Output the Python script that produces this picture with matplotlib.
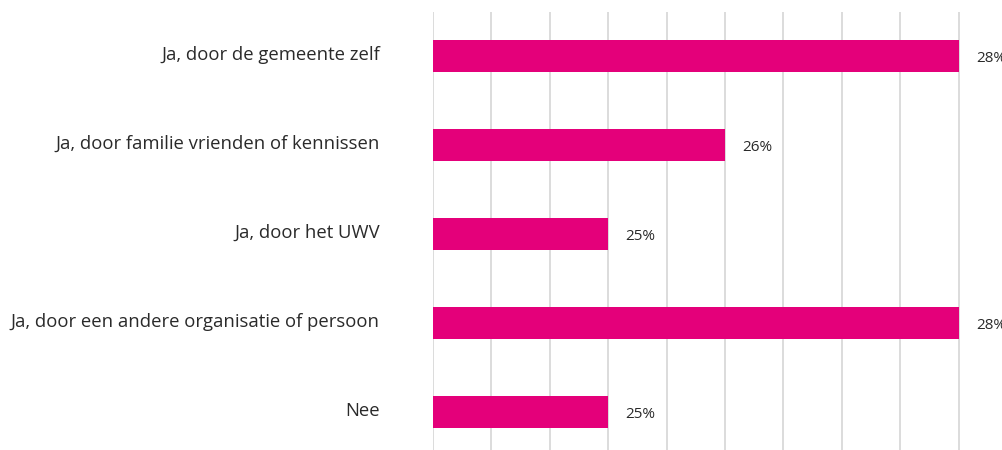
import matplotlib
matplotlib.use("Agg")
import matplotlib.pyplot as plt
import matplotlib.transforms as mtransforms
from matplotlib.ticker import MultipleLocator

categories = [
    "Ja, door de gemeente zelf",
    "Ja, door familie vrienden of kennissen",
    "Ja, door het UWV",
    "Ja, door een andere organisatie of persoon",
    "Nee",
]
values = [28, 26, 25, 28, 25]

BAR_COLOR = "#e4007a"
GRID_COLOR = "#d9d9d9"
TEXT_COLOR = "#2a2a2a"

plt.rcParams["font.family"] = ["Open Sans", "DejaVu Sans"]

fig = plt.figure(figsize=(10.03, 4.5), dpi=100)
# axes run off the right and bottom edge of the canvas
ax = fig.add_axes([432.7 / 1003, -6.5 / 450, 660 / 1003, 445 / 450])

y = list(range(len(categories)))
ax.barh(y, values, height=0.36, color=BAR_COLOR, zorder=3)

for yi, v in zip(y, values):
    ax.annotate(f"{v}%", xy=(v, yi), xytext=(12.5, -1.5), textcoords="offset points",
                ha="left", va="center", fontsize=11, color=TEXT_COLOR,
                annotation_clip=False)

ax.set_xlim(23.5, 23.5 + 660 / 116.9)
ax.set_ylim(len(categories) - 0.5, -0.5)
ax.xaxis.set_major_locator(MultipleLocator(0.5))
ax.grid(axis="x", color=GRID_COLOR, linewidth=1.3, zorder=0)
ax.set_axisbelow(True)

ax.set_yticks(y)
ax.set_yticklabels(categories, fontsize=13.3, color=TEXT_COLOR)
ax.tick_params(axis="y", length=0, pad=38)
ax.tick_params(axis="x", length=0, labelbottom=False)
for s in ax.spines.values():
    s.set_visible(False)

# nudge the category labels slightly above the bar centres
lift = mtransforms.ScaledTranslation(0, 3 / 100, fig.dpi_scale_trans)
for lbl in ax.get_yticklabels():
    lbl.set_transform(lbl.get_transform() + lift)

fig.savefig("out.png", dpi=100)
